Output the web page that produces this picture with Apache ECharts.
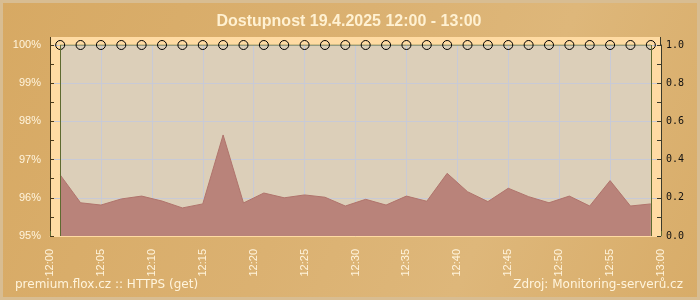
<!DOCTYPE html>
<html>
<head>
<meta charset="utf-8">
<script src="https://cdn.jsdelivr.net/npm/echarts@6/dist/echarts.min.js"></script>
<style>html,body{margin:0;padding:0;background:#D9AE6C;}#c{width:700px;height:300px;}</style>
</head>
<body>
<div id="c"></div>
<script>
// ---- data ----
const times = ['12:01','12:03','12:05','12:07','12:09','12:11','12:13','12:15','12:17','12:19',
               '12:21','12:23','12:25','12:27','12:29','12:31','12:33','12:35','12:37','12:39',
               '12:41','12:43','12:45','12:47','12:49','12:51','12:53','12:55','12:57','12:59'];
const availability = [100,100,100,100,100,100,100,100,100,100,
                      100,100,100,100,100,100,100,100,100,100,
                      100,100,100,100,100,100,100,100,100,100];
const responseTime = [0.32,0.174,0.162,0.194,0.209,0.183,0.147,0.168,0.529,0.173,
                      0.225,0.200,0.215,0.203,0.157,0.192,0.162,0.209,0.182,0.328,
                      0.232,0.180,0.250,0.206,0.174,0.209,0.157,0.290,0.157,0.168];
const xTickLabels = ['12:00','12:05','12:10','12:15','12:20','12:25','12:30',
                     '12:35','12:40','12:45','12:50','12:55','13:00'];
const leftTickLabels = ['95%','96%','97%','98%','99%','100%'];
const rightTickLabels = ['0.0','0.2','0.4','0.6','0.8','1.0'];
const titleText = 'Dostupnost 19.4.2025 12:00 - 13:00';
const footerLeft = 'premium.flox.cz :: HTTPS (get)';
const footerRight = 'Zdroj: Monitoring-serverů.cz';

const toMin = t => { const p = t.split(':'); return (+p[0] - 12) * 60 + (+p[1]); };
const availData = times.map((t, i) => [toMin(t), availability[i]]);
const respData = times.map((t, i) => [toMin(t), responseTime[i]]);

const OLIVE = '#5E6B30';
const GRID = '#C8CAD6';
const CREAM = '#FFF4DC';

const chart = echarts.init(document.getElementById('c'), null, {renderer: 'canvas'});
chart.setOption({
  animation: false,
  backgroundColor: {
    type: 'linear', x: 0, y: 0, x2: 1, y2: 1,
    colorStops: [
      {offset: 0, color: '#D7A963'},
      {offset: 0.45, color: '#DBB171'},
      {offset: 0.7, color: '#DEB77A'},
      {offset: 1, color: '#D8AC68'}
    ]
  },
  graphic: [
    {type: 'rect', z: -10, silent: true, shape: {x: 1.5, y: 1.5, width: 697, height: 297},
     style: {fill: 'none', stroke: '#D8BD92', lineWidth: 3}},
    {type: 'rect', z: -10, silent: true, shape: {x: 50, y: 37, width: 611, height: 199},
     style: {fill: '#FFDBA3'}},
    {type: 'line', z: 5, silent: true, shape: {x1: 50.5, y1: 37, x2: 50.5, y2: 46},
     style: {stroke: '#4A3A1A', lineWidth: 1}},
    {type: 'line', z: 5, silent: true, shape: {x1: 660.5, y1: 37, x2: 660.5, y2: 46},
     style: {stroke: '#3A3A2A', lineWidth: 1}},
    {type: 'text', z: 5, silent: true, x: 349, y: 22,
     style: {text: titleText, x: 0, y: 0, align: 'center', verticalAlign: 'middle',
             fill: '#FFF1D2', font: 'bold 16px "Liberation Sans", Arial, sans-serif'}},
    {type: 'text', z: 5, silent: true, x: 15, y: 285,
     style: {text: footerLeft, x: 0, y: 0, align: 'left', verticalAlign: 'middle',
             fill: CREAM, font: '12px "DejaVu Sans", sans-serif'}},
    {type: 'text', z: 5, silent: true, x: 683, y: 285,
     style: {text: footerRight, x: 0, y: 0, align: 'right', verticalAlign: 'middle',
             fill: CREAM, font: '12px "DejaVu Sans", sans-serif'}}
  ],
  grid: {left: 50, right: 39, top: 45, bottom: 64, containLabel: false},
  xAxis: {
    type: 'value', min: 0, max: 60, interval: 5, z: 1,
    axisLine: {show: true, lineStyle: {color: '#FFDBA3', width: 1}},
    axisTick: {show: true, inside: true, length: 5, lineStyle: {color: OLIVE}},
    minorTick: {show: true, splitNumber: 5, length: 3, lineStyle: {color: OLIVE}},
    splitLine: {show: true, lineStyle: {color: GRID, width: 1}},
    axisLabel: {
      rotate: 90, margin: 13, color: CREAM, fontSize: 11,
      fontFamily: '"Liberation Sans", Arial, sans-serif',
      formatter: v => xTickLabels[Math.round(v / 5)]
    }
  },
  yAxis: [
    {
      type: 'value', min: 95, max: 100, interval: 1, position: 'left', z: 1,
      axisLine: {show: true, onZero: false, lineStyle: {color: '#4A3A1A', width: 1}},
      axisTick: {show: true, inside: true, length: 4, lineStyle: {color: '#4A3A1A'}},
      minorTick: {show: true, splitNumber: 2, length: 4, lineStyle: {color: '#4A3A1A'}},
      splitLine: {show: true, lineStyle: {color: GRID, width: 1}},
      axisLabel: {
        margin: 9, color: CREAM, fontSize: 11,
        fontFamily: '"Liberation Sans", Arial, sans-serif',
        formatter: v => leftTickLabels[Math.round(v - 95)]
      }
    },
    {
      type: 'value', min: 0, max: 1, interval: 0.2, position: 'right', z: 1,
      axisLine: {show: true, onZero: false, lineStyle: {color: '#3A3A2A', width: 1}},
      axisTick: {show: true, inside: true, length: 4, lineStyle: {color: '#3A3A2A'}},
      minorTick: {show: true, splitNumber: 2, length: 4, lineStyle: {color: '#3A3A2A'}},
      splitLine: {show: false},
      axisLabel: {
        margin: 5, color: '#111', fontSize: 10,
        fontFamily: '"DejaVu Sans Mono", monospace',
        formatter: v => rightTickLabels[Math.round(v * 5)]
      }
    }
  ],
  series: [
    {
      name: 'availability-area', type: 'line', yAxisIndex: 0, z: -1,
      data: availData, showSymbol: false, symbol: 'none',
      lineStyle: {width: 0},
      areaStyle: {color: '#DCCFB9', opacity: 1, origin: 'start'}
    },
    {
      name: 'availability', type: 'line', yAxisIndex: 0, z: 1.5,
      data: availData, symbol: 'circle', symbolSize: 9,
      itemStyle: {color: 'rgba(0,0,0,0)', borderColor: '#000', borderWidth: 1},
      lineStyle: {color: OLIVE, width: 1},
      markLine: {
        silent: true, symbol: 'none', label: {show: false},
        lineStyle: {color: OLIVE, width: 1, type: 'solid'},
        data: [{xAxis: availData[0][0]}, {xAxis: availData[availData.length - 1][0]}]
      }
    },
    {
      name: 'response', type: 'line', yAxisIndex: 1, z: 2,
      data: respData, symbol: 'none',
      lineStyle: {color: '#B0746C', width: 1},
      areaStyle: {color: '#B9837A', opacity: 1}
    }
  ]
});
</script>
</body>
</html>
